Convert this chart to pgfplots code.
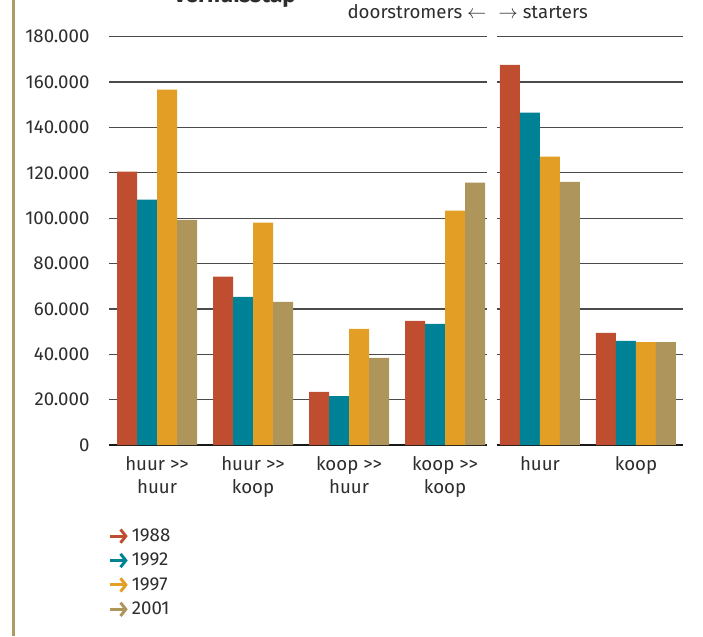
\documentclass[border=0pt]{standalone}
\usepackage{fontspec}
\setmainfont{Fira Sans}
\usepackage{pgfplots}
\pgfplotsset{compat=1.18}
\usetikzlibrary{arrows.meta}

\definecolor{cA}{RGB}{191,78,48}
\definecolor{cB}{RGB}{0,130,150}
\definecolor{cC}{RGB}{226,158,37}
\definecolor{cD}{RGB}{173,149,92}
\definecolor{rulec}{RGB}{174,154,100}
\definecolor{gridc}{RGB}{75,75,75}
\definecolor{txt}{RGB}{45,45,45}

\newcommand{\labfont}{\fontsize{14}{17.5}\selectfont}
\newcommand{\gt}{>\kern0pt>}

\pgfplotsset{
  verhuis/.style={
    scale only axis,
    height=306.2pt,
    ymin=0, ymax=180000,
    ytick={0,20000,...,180000},
    scaled y ticks=false,
    ybar=0pt, bar width=15pt,
    axis line style={draw=none},
    major tick length=0pt,
    ymajorgrids,
    grid style={gridc, line width=1pt},
    extra y ticks={0},
    extra y tick labels={},
    extra y tick style={grid style={black!90, line width=1.3pt}},
    tick label style={font=\labfont, text=txt},
    xticklabel style={align=center, yshift=-5pt},
    /pgf/number format/fixed,
    /pgf/number format/1000 sep={.},
    /pgf/number format/assume math mode=true,
  },
  arrowleg/.style={legend image code/.code={%
    \draw[#1, line width=2.2pt, -{Straight Barb[length=4pt, width=10pt]}]
      (0pt,0pt) -- (13.5pt,0pt);}},
}

\begin{document}
\begin{tikzpicture}
% left border rule
\fill[rulec] (8.8pt,0pt) rectangle (11.3pt,477pt);

% doorstromers: moves of households that already had a home
\begin{axis}[verhuis,
  at={(82.125pt,143.25pt)}, anchor=south west,
  width=282.9pt,
  xmin=-0.495, xmax=3.434,
  xtick={0,1,2,3},
  xticklabels={{huur \gt\\huur},{huur \gt\\koop},{koop \gt\\huur},{koop \gt\\koop}},
  yticklabel style={xshift=-11.5pt},
  legend style={at={(-0.004,-0.198)}, anchor=north west, draw=none, fill=none,
    font=\labfont, text=txt, row sep=3.3pt, inner sep=0pt},
  legend cell align=left,
]
\addplot[fill=cA, draw=none, arrowleg=cA] coordinates {(0,120500) (1,74200) (2,23400) (3,54700)};
\addplot[fill=cB, draw=none, arrowleg=cB] coordinates {(0,108200) (1,65300) (2,21600) (3,53400)};
\addplot[fill=cC, draw=none, arrowleg=cC] coordinates {(0,156700) (1,98000) (2,51200) (3,103300)};
\addplot[fill=cD, draw=none, arrowleg=cD] coordinates {(0,99300) (1,63100) (2,38400) (3,115700)};
\legend{1988,1992,1997,2001}
\end{axis}

% starters: first home
\begin{axis}[verhuis,
  at={(372.375pt,143.25pt)}, anchor=south west,
  width=139.9pt,
  xmin=-0.453, xmax=1.49,
  xtick={0,1},
  xticklabels={huur,koop},
  yticklabels={},
]
\addplot[fill=cA, draw=none] coordinates {(0,167600) (1,49400)};
\addplot[fill=cB, draw=none] coordinates {(0,146500) (1,45900)};
\addplot[fill=cC, draw=none] coordinates {(0,127100) (1,45400)};
\addplot[fill=cD, draw=none] coordinates {(0,116000) (1,45400)};
\end{axis}

\node[anchor=base, inner sep=0pt, font=\bfseries\fontsize{17}{20}\selectfont, text=txt]
  at (176.25pt,474.75pt) {verhuisstap};
\node[anchor=base east, inner sep=0pt, font=\labfont, text=txt]
  at (365pt,463.3pt) {doorstromers $\leftarrow$};
\node[anchor=base west, inner sep=0pt, font=\labfont, text=txt]
  at (373.75pt,463.3pt) {$\rightarrow$ starters};

\pgfresetboundingbox
\useasboundingbox (0pt,0pt) rectangle (527.25pt,477pt);
\end{tikzpicture}
\end{document}
